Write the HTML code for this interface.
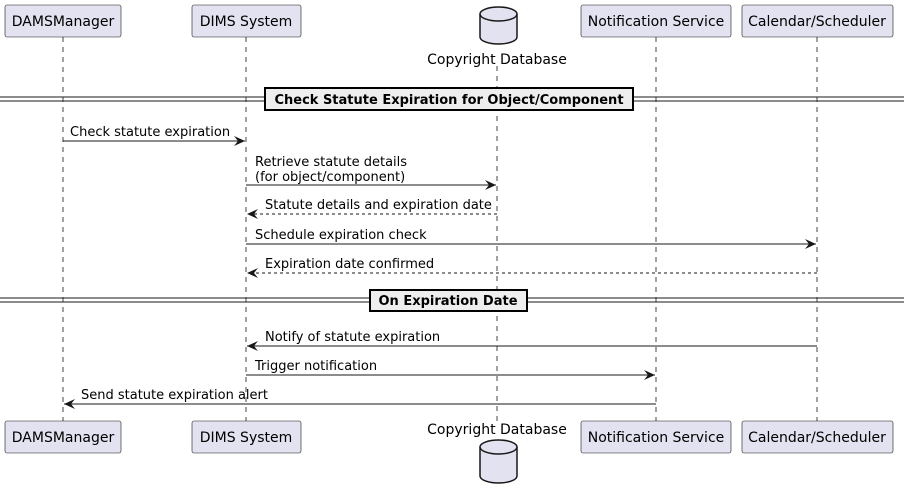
<!DOCTYPE html>
<html><head><meta charset="utf-8"><style>body{margin:0;background:#fff}svg{display:block}text{font-family:"DejaVu Sans","Liberation Sans",sans-serif;font-size:13px;fill:#000}.p{font-size:14px}</style></head><body>
<svg width="904" height="499" viewBox="0 0 904 499" xmlns="http://www.w3.org/2000/svg">
<defs><marker id="a" markerWidth="12" markerHeight="10" refX="11" refY="5" orient="auto" markerUnits="userSpaceOnUse"><path d="M0,0 L11,5 L0,10 L4,5 Z" fill="#181818"/></marker></defs>
<g stroke="#181818" stroke-width="0.8" stroke-dasharray="5,5">
<line x1="63" y1="37" x2="63" y2="421"/><line x1="246" y1="37" x2="246" y2="421"/><line x1="497" y1="66" x2="497" y2="421"/><line x1="656" y1="37" x2="656" y2="421"/><line x1="817" y1="37" x2="817" y2="421"/>
</g>
<g fill="#E2E2F0" stroke="#181818" stroke-width="0.6">
<rect x="5" y="5" width="116" height="32" rx="2"/><rect x="192" y="5" width="109" height="32" rx="2"/><rect x="581" y="5" width="150" height="32" rx="2"/><rect x="742" y="5" width="151" height="32" rx="2"/>
<rect x="5" y="421" width="116" height="32" rx="2"/><rect x="192" y="421" width="109" height="32" rx="2"/><rect x="581" y="421" width="150" height="32" rx="2"/><rect x="742" y="421" width="151" height="32" rx="2"/>
</g>
<g fill="#E2E2F0" stroke="#181818" stroke-width="1.5">
<path d="M480,14 A18.5,7 0 0 1 517,14 L517,37 A18.5,7 0 0 1 480,37 Z"/><path d="M480,14 A18.5,7 0 0 0 517,14" fill="none"/>
<path d="M480,447 A18.5,7 0 0 1 517,447 L517,476 A18.5,7 0 0 1 480,476 Z"/><path d="M480,447 A18.5,7 0 0 0 517,447" fill="none"/>
</g>
<g text-anchor="middle" class="p">
<text class="p" x="63" y="26">DAMSManager</text><text class="p" x="246" y="26">DIMS System</text><text class="p" x="497" y="64">Copyright Database</text><text class="p" x="656" y="26">Notification Service</text><text class="p" x="817" y="26">Calendar/Scheduler</text>
<text class="p" x="63" y="442">DAMSManager</text><text class="p" x="246" y="442">DIMS System</text><text class="p" x="497" y="434">Copyright Database</text><text class="p" x="656" y="442">Notification Service</text><text class="p" x="817" y="442">Calendar/Scheduler</text>
</g>
<g stroke="#181818" stroke-width="1">
<line x1="0" y1="97" x2="904" y2="97"/><line x1="0" y1="101" x2="904" y2="101"/>
<line x1="0" y1="298" x2="904" y2="298"/><line x1="0" y1="302" x2="904" y2="302"/>
</g>
<rect x="265" y="88" width="368" height="22" fill="#EEEEEE" stroke="#000" stroke-width="2"/>
<text x="449" y="104" text-anchor="middle" font-weight="bold">Check Statute Expiration for Object/Component</text>
<rect x="370" y="290" width="157" height="21" fill="#EEEEEE" stroke="#000" stroke-width="2"/>
<text x="448" y="305" text-anchor="middle" font-weight="bold">On Expiration Date</text>
<g stroke="#181818" stroke-width="1" marker-end="url(#a)">
<line x1="63" y1="141" x2="245" y2="141"/>
<line x1="246" y1="185" x2="496" y2="185"/>
<line x1="497" y1="214" x2="247" y2="214" stroke-dasharray="3,3"/>
<line x1="246" y1="244" x2="816" y2="244"/>
<line x1="817" y1="273" x2="247" y2="273" stroke-dasharray="3,3"/>
<line x1="817" y1="346" x2="247" y2="346"/>
<line x1="246" y1="375" x2="655" y2="375"/>
<line x1="656" y1="404" x2="64" y2="404"/>
</g>
<text x="70" y="136">Check statute expiration</text>
<text x="255" y="166">Retrieve statute details</text><text x="255" y="181">(for object/component)</text>
<text x="265" y="209">Statute details and expiration date</text>
<text x="255" y="239">Schedule expiration check</text>
<text x="265" y="268">Expiration date confirmed</text>
<text x="265" y="341">Notify of statute expiration</text>
<text x="255" y="370">Trigger notification</text>
<text x="81" y="399">Send statute expiration alert</text>
</svg>
</body></html>
